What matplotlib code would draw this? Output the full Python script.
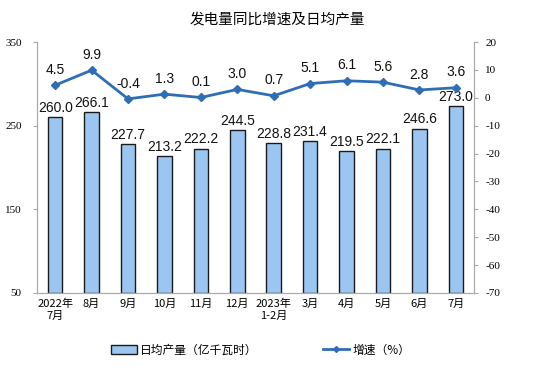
import matplotlib
matplotlib.use("Agg")
import matplotlib.pyplot as plt
from matplotlib.lines import Line2D
from matplotlib.patches import Patch

plt.rcParams['font.family'] = ['Liberation Sans', 'Noto Sans CJK SC', 'DejaVu Sans']

categories = ["2022年\n7月", "8月", "9月", "10月", "11月", "12月", "2023年\n1-2月",
              "3月", "4月", "5月", "6月", "7月"]
daily_output = [260.0, 266.1, 227.7, 213.2, 222.2, 244.5, 228.8, 231.4, 219.5, 222.1, 246.6, 273.0]
growth = [4.5, 9.9, -0.4, 1.3, 0.1, 3.0, 0.7, 5.1, 6.1, 5.6, 2.8, 3.6]
left_ticks = [50, 150, 250, 350]
right_ticks = list(range(-70, 21, 10))

fig = plt.figure(figsize=(5.54, 3.85), dpi=100)
ax = fig.add_axes([37/554, 1-293/385, (474-37)/554, (293-42)/385])
ax2 = ax.twinx()

x = list(range(len(categories)))
bar_color = '#9CC6F2'
line_color = '#2F6EB5'

ax.bar(x, [v - 50 for v in daily_output], bottom=50, width=0.40, color=bar_color,
       edgecolor='#1a1a1a', linewidth=1.0, zorder=2)
for xi, v in zip(x, daily_output):
    ax.text(xi, v + 3, f"{v:.1f}", ha='center', va='bottom', fontsize=10,
            family=['Liberation Sans'], color='#111111')

ax.set_ylim(50, 350)
ax.set_xlim(-0.5, len(categories) - 0.5)
ax.set_yticks(left_ticks)
ax.set_yticklabels([str(t) for t in left_ticks], family=['Liberation Serif'], fontsize=8)
ax.set_xticks(x)
ax.set_xticklabels(categories, fontsize=8, family=['Noto Sans CJK SC', 'DejaVu Sans'],
                   linespacing=1.2)

ax2.plot(x, growth, color=line_color, linewidth=2, marker='D', markersize=4.5, zorder=3)
for xi, g in zip(x, growth):
    ax2.text(xi, g + 3, f"{g:.1f}", ha='center', va='bottom', fontsize=10,
             family=['Liberation Sans'], color='#111111')
ax2.set_ylim(-70, 20)
ax2.set_yticks(right_ticks)
ax2.set_yticklabels([str(t) for t in right_ticks], family=['Liberation Serif'], fontsize=8)

for a in (ax, ax2):
    a.spines['top'].set_visible(False)
    for s in ('left', 'right', 'bottom'):
        a.spines[s].set_color('#aaaaaa')
        a.spines[s].set_linewidth(0.8)
ax.tick_params(axis='y', direction='out', length=3, color='#aaaaaa', pad=8)
ax.tick_params(axis='x', length=0, pad=4)
ax2.tick_params(axis='y', direction='out', length=3, color='#aaaaaa', pad=5)

fig.text(0.5, 1-20/385, "发电量同比增速及日均产量", ha='center', va='center',
         fontsize=10.5, family=['Noto Sans CJK SC'])

handles = [Patch(facecolor=bar_color, edgecolor='#1a1a1a', linewidth=1.0),
           Line2D([0], [0], color=line_color, linewidth=2, marker='D', markersize=3)]
labels = ["日均产量（亿千瓦时）", "增速（%）"]
fig.legend(handles, labels, loc='center', bbox_to_anchor=(0.47, 1-350/385), ncol=2,
           frameon=False, prop={'family': ['Noto Sans CJK SC'], 'size': 8.5},
           columnspacing=5.5, handlelength=2.2, handletextpad=0.3)

fig.savefig("out.png", dpi=100)
